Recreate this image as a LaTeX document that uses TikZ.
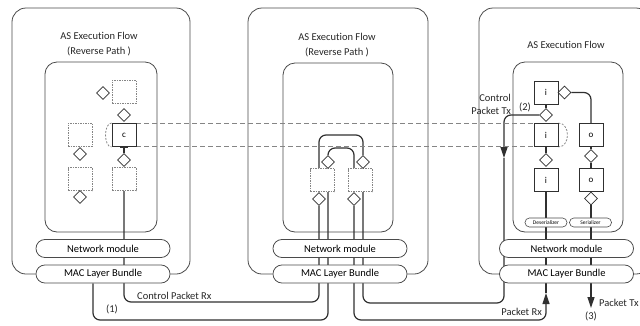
\documentclass[tikz,border=0pt]{standalone}
\usepackage{fontspec}
\setmainfont[Ligatures=NoCommon]{Carlito}
\usetikzlibrary{shapes.geometric,arrows.meta,calc}
\pgfdeclarelayer{bg}
\pgfdeclarelayer{mid}
\pgfsetlayers{bg,mid,main}
\definecolor{framec}{HTML}{4A4A4A}
\definecolor{linec}{HTML}{303030}
\definecolor{dashc}{HTML}{858585}
\tikzset{
 frame/.style={draw=framec, line width=0.8pt, rounded corners=14pt},
 innerbox/.style={draw=framec, line width=0.8pt, rounded corners=12pt},
 pill/.style={draw=framec, line width=0.8pt, fill=white, rounded corners=8.9pt, minimum width=134pt, minimum height=18pt, inner sep=0pt, font=\fontsize{10.5}{12}\selectfont},
 smallpill/.style={draw=framec, line width=0.6pt, fill=white, rounded corners=4.4pt, minimum width=42pt, minimum height=9pt, inner sep=0pt, font=\fontsize{5.5}{6}\selectfont},
 dsq/.style={draw=dashc, line width=0.7pt, dash pattern=on 1.5pt off 1pt, fill=white, minimum width=24pt, minimum height=23pt, inner sep=0pt},
 sbox/.style={draw=linec, line width=0.9pt, fill=white, minimum width=24pt, minimum height=23pt, inner sep=0pt, font=\fontsize{9}{10}\selectfont},
 dia/.style={diamond, draw=linec, line width=0.8pt, fill=white, minimum width=13pt, minimum height=13pt, inner sep=0pt},
 conn/.style={draw=linec, line width=1.2pt, rounded corners=7pt},
 dline/.style={draw=dashc, line width=1pt, dash pattern=on 5pt off 3pt},
 darc/.style={draw=dashc, line width=0.8pt, dash pattern=on 2pt off 1.5pt},
 lbl/.style={font=\fontsize{10.5}{12}\selectfont, inner sep=0pt, text=black!85},
 ttl/.style={font=\fontsize{10.5}{15}\selectfont, inner sep=0pt, align=center, text=black!85},
 tip/.style={-{Triangle[length=11pt,width=7pt]}},
}
\begin{document}
\begin{tikzpicture}[x=1pt,y=-1pt]
\useasboundingbox (0,0) rectangle (640,325);
\clip (0,0) rectangle (640,325);

% ---------- left panel ----------
\node[ttl] (Ltitle) at (99,44.5) {AS Execution Flow\\(Reverse Path )};
\node[pill] (LNM) at (103,248.5) {Network module};
\node[pill] (LMAC) at (103,274) {MAC Layer Bundle};
\node[dsq] (Ltop) at (124,91.5) {};
\node[dia] (Ltopd) at (103,93) {};
\node[dia] (Ld1) at (124,115) {};
\node[sbox] (Lc) at (124,135) {c};
\node[dia] (Ld2) at (124,160) {};
\node[dsq] (Lbr) at (124,179) {};
\node[dsq] (Lml) at (80,134.5) {};
\node[dia] (Ld3) at (80,154) {};
\node[dsq] (Lbl) at (80,179) {};
\node[dia] (Ld4) at (80,197) {};

% ---------- middle panel ----------
\node[ttl] (Mtitle) at (337,45) {AS Execution Flow\\(Reverse Path )};
\node[pill] (MNM) at (340,248.5) {Network module};
\node[pill] (MMAC) at (340,274) {MAC Layer Bundle};
\node[dsq] (Msl) at (322.5,180) {};
\node[dsq] (Msr) at (360,180) {};
\node[dia] (Mdl1) at (328,162) {};
\node[dia] (Mdr1) at (363,162) {};
\node[dia] (Mdl2) at (319,199) {};
\node[dia] (Mdr2) at (354,199) {};

% ---------- right panel ----------
\node[lbl] (Rtitle) at (566,45) {AS Execution Flow};
\node[pill] (RNM) at (566.5,248.5) {Network module};
\node[pill] (RMAC) at (566.5,274) {MAC Layer Bundle};
\node[sbox] (Ri1) at (546,92.5) {i};
\node[dia] (Rdt) at (564.5,92.5) {};
\node[dia] (Rd1) at (546,115) {};
\node[sbox] (Ri2) at (546,135) {i};
\node[dia] (Rd2) at (546,160) {};
\node[sbox] (Ri3) at (546,180) {i};
\node[sbox] (Ro2) at (591,135) {o};
\node[dia] (Rdo) at (591,156) {};
\node[sbox] (Ro3) at (591,180) {o};
\node[dia] (Rdo3) at (591,198.5) {};
\node[smallpill] (Rdes) at (546,222.5) {Deserializer};
\node[smallpill] (Rser) at (590.5,222.5) {Serializer};

% ---------- labels ----------
\node[lbl, anchor=west] (lcprx) at (137,296) {Control Packet Rx};
\node[lbl] (l1) at (112,309) {(1)};
\node[lbl, anchor=east, align=right, font=\fontsize{10.5}{13}\selectfont] (lcptx) at (511,104.5) {Control\\Packet Tx};
\node[lbl] (l2) at (525,107.5) {(2)};
\node[lbl, anchor=east] (lprx) at (542,312) {Packet Rx};
\node[lbl, anchor=west] (lptx) at (599,303) {Packet Tx};
\node[lbl] (l3) at (591,316) {(3)};

% ---------- frames ----------
\begin{pgfonlayer}{bg}
\draw[frame] (LMAC.west) -- (12,274) -- (12,8) -- (190,8) -- (190,274) -- (LMAC.east);
\draw[frame] (MMAC.west) -- (248,274) -- (248,8) -- (428,8) -- (428,274) -- (MMAC.east);
\draw[frame] (RMAC.west) -- (479,274) -- (479,8) -- (650,8) -- (650,274) -- (RMAC.east);
\draw[innerbox] (45,62) rectangle (157,232);
\draw[innerbox] (283,63) rectangle (393,232);
\draw[innerbox] (513,62) rectangle (623,232);
\end{pgfonlayer}

% ---------- connectors ----------
\coordinate (cA) at (504,115);
\coordinate (cB) at (504,158);
\coordinate (cC) at (504,303);
\coordinate (cD) at (363,303);
\coordinate (cE) at (363,135);
\coordinate (cF) at (319,135);
\coordinate (cG) at (319,302);
\coordinate (cH) at (124,302);
\coordinate (dA) at (93,320);
\coordinate (dB) at (328,320);
\coordinate (dC) at (328,148);
\coordinate (dD) at (354,148);
\coordinate (dE) at (354,320);
\coordinate (dF) at (546,320);
\coordinate (dG) at (546,293);
\coordinate (fA) at (591,92.5);
\coordinate (eA) at (591,308);

\begin{pgfonlayer}{mid}
% control path (2)
\draw[conn,tip] (Rd1.west) -- (cA) -- (cB);
\draw[conn] (cB) -- (cC) -- (cD) -- (Msr.south -| cD);
\draw[conn] (Mdr1.north) -- (cE) -- (cF) -- (Msl.north -| cF);
\draw[conn] (Mdl2.south) -- (cG) -- (cH) -- (Lbr.south);
% data path (1)
\draw[conn] (LMAC.south -| dA) -- (dA) -- (dB) -- (Msl.south -| dB);
\draw[conn] (Mdl1.north) -- (dC) -- (dD) -- (Msr.north -| dD);
\draw[conn,tip] (Mdr2.south) -- (dE) -- (dF) -- (dG);
\draw[conn] (dG) -- (Ri3.south);
% right panel internals
\draw[conn] (Ri1.south) -- (Rd1.north);
\draw[conn] (Ri2.south) -- (Rd2.north);
\draw[conn] (Rdt.east) -- (fA) -- (Ro2.north);
\draw[conn] (Ro2.south) -- (Rdo.north);
\draw[conn] (Rdo.south) -- (Ro3.north);
\draw[conn] (Rdo3.south) -- (Rdo3 |- RMAC.south);
\draw[conn,tip] (Rdo3 |- RMAC.south) -- (eA);
% left panel internals
\draw[conn] (Lc.south) -- (Ld2.north);
\draw[linec, line width=1.6pt] ($(Lc.south)+(-4,0)$) -- ($(Lc.south)+(4,0)$);
% migration tube
\draw[dline] (Lc.north east) -- (Ri2.north west);
\draw[dline] (Lc.south east) -- (Ri2.south west);
\draw[darc] (Lc.north west) .. controls +(-8,0) and +(-8,0) .. (Lc.south west);
\draw[darc] (Ri2.north east) .. controls +(12,0) and +(12,0) .. (Ri2.south east);
\end{pgfonlayer}
\end{tikzpicture}
\end{document}
